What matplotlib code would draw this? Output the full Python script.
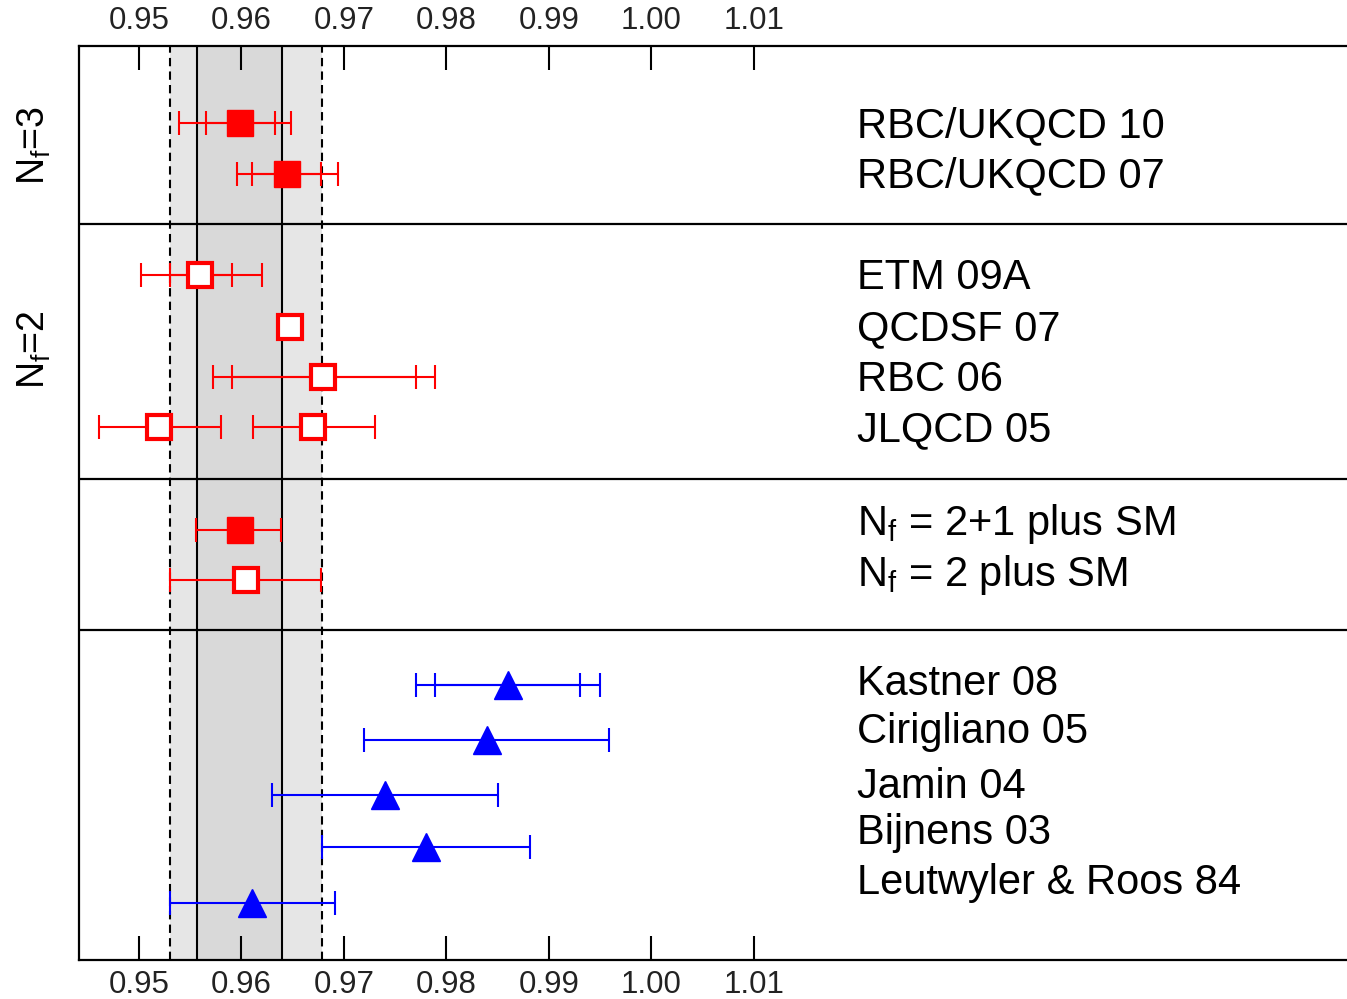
import matplotlib
matplotlib.use("Agg")
import matplotlib.pyplot as plt

plt.rcParams['font.family'] = ['Liberation Sans', 'DejaVu Sans']
plt.rcParams['mathtext.fontset'] = 'custom'
plt.rcParams['mathtext.rm'] = 'Liberation Sans'
plt.rcParams['mathtext.it'] = 'Liberation Sans'

# ---- data ----
labels = ["RBC/UKQCD 10", "RBC/UKQCD 07", "ETM 09A", "QCDSF 07", "RBC 06", "JLQCD 05",
          r"$\mathregular{N_f}$ = 2+1 plus SM", r"$\mathregular{N_f}$ = 2 plus SM",
          "Kastner 08", "Cirigliano 05", "Jamin 04", "Bijnens 03", "Leutwyler & Roos 84"]
label_rows = [1.57, 2.55, 4.55, 5.55, 6.55, 7.53, 9.37, 10.37, 12.51, 13.45, 14.53, 15.43, 16.41]

# points: value, stat-low, stat-high (inner caps), tot-low, tot-high (outer caps)
pt_values = [0.9599, 0.9644, 0.9560, 0.9647, 0.9680, 0.9520, 0.9670,
             0.9599, 0.9604, 0.9860, 0.9840, 0.9740, 0.9780, 0.9610]
pt_rows   = [1.51, 2.51, 4.49, 5.51, 6.49, 7.47, 7.47,
             9.49, 10.47, 12.53, 13.61, 14.69, 15.71, 16.80]
pt_inner_lo = [0.9565, 0.9610, 0.9530, None, 0.9591, None, None,
               None, None, 0.9789, None, None, None, None]
pt_inner_hi = [0.9633, 0.9678, 0.9591, None, 0.9770, None, None,
               None, None, 0.9930, None, None, None, None]
pt_outer_lo = [0.9539, 0.9596, 0.9502, None, 0.9572, 0.9461, 0.9611,
               0.9556, 0.9530, 0.9770, 0.9720, 0.9630, 0.9679, 0.9530]
pt_outer_hi = [0.9648, 0.9694, 0.9620, None, 0.9789, 0.9580, 0.9730,
               0.9639, 0.9678, 0.9950, 0.9959, 0.9850, 0.9881, 0.9691]
pt_style = ['fs', 'fs', 'os', 'os', 'os', 'os', 'os', 'fs', 'os',
            'tri', 'tri', 'tri', 'tri', 'tri']

band_inner = (0.9557, 0.9640)
band_outer = (0.9530, 0.9679)
separators = [3.49, 8.49, 11.45]
xticks = [0.95, 0.96, 0.97, 0.98, 0.99, 1.00, 1.01]
side_labels = [r"$\mathregular{N_f}$=3", r"$\mathregular{N_f}$=2"]
side_rows = [1.95, 5.95]

# ---- figure ----
fig = plt.figure(figsize=(13.47, 9.99), dpi=100)
ax = fig.add_axes([79/1347, 39/999, 1 - 79/1347, (960-46)/999])
ax.set_xlim(0.94415, 1.06785)
ax.set_ylim(17.92, 0)

ax.axvspan(*band_outer, color='#e6e6e6', lw=0, zorder=0)
ax.axvspan(*band_inner, color='#d9d9d9', lw=0, zorder=0)
for v in band_outer:
    ax.axvline(v, color='black', ls=(0, (4, 2.5)), lw=1.5, zorder=1)
for v in band_inner:
    ax.axvline(v, color='black', lw=1.5, zorder=1)
for s in separators:
    ax.axhline(s, color='black', lw=1.6, zorder=1)

for i, v in enumerate(pt_values):
    st = pt_style[i]
    col = 'blue' if st == 'tri' else 'red'
    y = pt_rows[i]
    if pt_outer_lo[i] is not None:
        ax.errorbar([v], [y], xerr=[[v - pt_outer_lo[i]], [pt_outer_hi[i] - v]],
                    fmt='none', ecolor=col, elinewidth=1.5, capsize=8.5, capthick=1.5, zorder=3)
    if pt_inner_lo[i] is not None:
        ax.errorbar([v], [y], xerr=[[v - pt_inner_lo[i]], [pt_inner_hi[i] - v]],
                    fmt='none', ecolor=col, elinewidth=1.5, capsize=8.5, capthick=1.5, zorder=3)
    if st == 'fs':
        ax.plot([v], [y], marker='s', ms=18.5, mfc='red', mec='red', mew=1, zorder=4)
    elif st == 'os':
        ax.plot([v], [y], marker='s', ms=17.5, mfc='white', mec='red', mew=3, zorder=4)
    else:
        ax.plot([v], [y], marker='^', ms=20, mfc='blue', mec='blue', mew=1, zorder=4)

for lab, r in zip(labels, label_rows):
    ax.text(1.0200, r, lab, fontsize=30, va='center', ha='left', color='black')

for lab, r in zip(side_labels, side_rows):
    ax.text(-0.035, r, lab, fontsize=27, rotation=90, va='center', ha='center',
            transform=ax.get_yaxis_transform())

ax.set_xticks(xticks)
ax.set_xticklabels([f"{t:.2f}" for t in xticks])
ax.tick_params(axis='x', which='both', direction='in', length=17, width=1.5,
               top=True, bottom=True, labeltop=True, labelbottom=True,
               labelsize=22.5, pad=7, labelcolor='#222222')
ax.set_yticks([])
ax.spines['right'].set_visible(False)
for s in ['left', 'top', 'bottom']:
    ax.spines[s].set_linewidth(1.6)

fig.savefig('out.png', dpi=100)
